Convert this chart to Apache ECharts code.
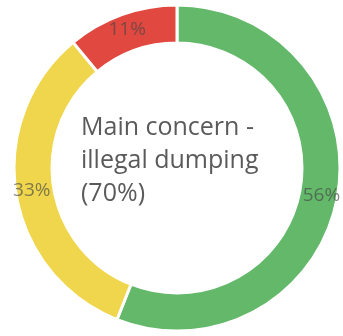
<!DOCTYPE html>
<html>
<head>
<meta charset="utf-8">
<script src="https://cdn.jsdelivr.net/npm/echarts@6/dist/echarts.min.js"></script>
<style>
  html, body { margin: 0; padding: 0; background: #fff; }
  #chart { width: 343px; height: 336px; }
</style>
</head>
<body>
<div id="chart"></div>
<script>
// Share of responses per rating band
const categories = ['Green', 'Yellow', 'Red'];
const values = [56, 33, 11];
const colors = ['#63b86a', '#efd64c', '#e1483f'];
const centerLines = ['Main concern -', 'illegal dumping', '(70%)'];

const chart = echarts.init(document.getElementById('chart'), null, { renderer: 'canvas' });

chart.setOption({
  backgroundColor: '#ffffff',
  animation: false,
  graphic: [{
    type: 'text',
    left: 81,
    top: 111,
    style: {
      text: centerLines.join('\n'),
      font: '25px "Open Sans", sans-serif',
      lineHeight: 33,
      fill: '#5a5a5a'
    }
  }],
  series: [{
    type: 'pie',
    center: [177, 168],
    radius: [125, 163],
    startAngle: 90,
    clockwise: true,
    avoidLabelOverlap: false,
    itemStyle: { borderColor: '#ffffff', borderWidth: 3 },
    label: {
      show: true,
      position: 'inside',
      formatter: '{c}%',
      color: 'rgba(70,70,70,0.65)',
      fontSize: 19,
      fontFamily: '"Open Sans", sans-serif'
    },
    labelLine: { show: false },
    data: categories.map((name, i) => ({
      name,
      value: values[i],
      itemStyle: { color: colors[i] }
    }))
  }]
});
</script>
</body>
</html>
